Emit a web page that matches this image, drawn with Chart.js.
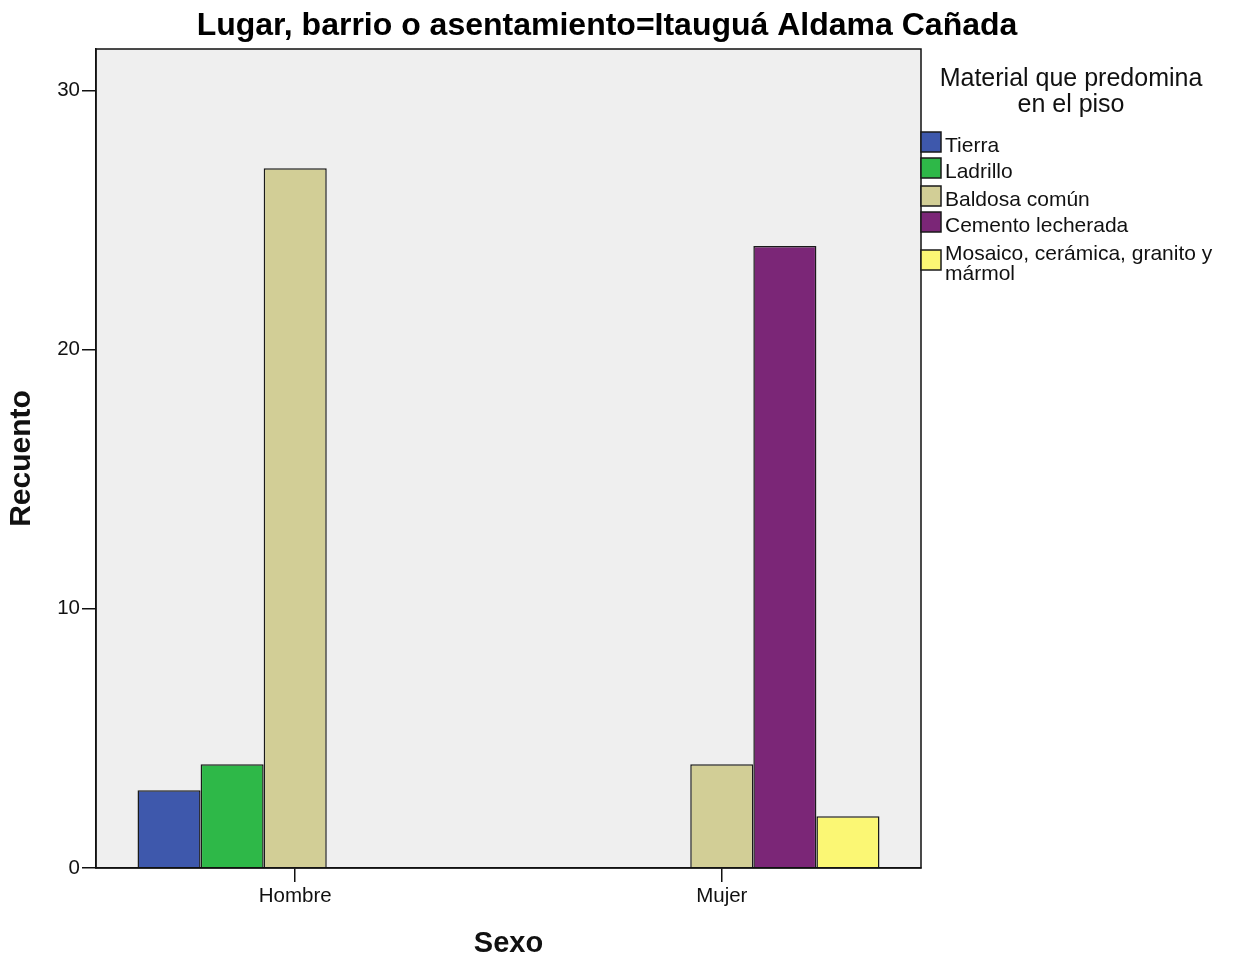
<!DOCTYPE html>
<html>
<head>
<meta charset="utf-8">
<script src="https://cdn.jsdelivr.net/npm/chart.js@4"></script>
<style>
  html, body { margin: 0; padding: 0; background: #fff; }
  #wrap { width: 1240px; height: 958px; }
</style>
</head>
<body>
<div id="wrap"><canvas id="myChart" width="1240" height="958"></canvas></div>
<script>
// datos
const chartTitle = "Lugar, barrio o asentamiento=Itauguá Aldama Cañada";
const xTitle = "Sexo";
const yTitle = "Recuento";
const legendTitle = ["Material que predomina", "en el piso"];
const categories = ["Hombre", "Mujer"];
const seriesNames = ["Tierra", "Ladrillo", "Baldosa común", "Cemento lecherada", "Mosaico, cerámica, granito y mármol"];
const legendLines = [["Tierra"], ["Ladrillo"], ["Baldosa común"], ["Cemento lecherada"], ["Mosaico, cerámica, granito y", "mármol"]];
const tierra = [3, null];
const ladrillo = [4, null];
const baldosa = [27, 4];
const cemento = [null, 24];
const mosaico = [null, 2];
const yTicks = [0, 10, 20, 30];
const colors = ["#3e58ac", "#2eb848", "#d2ce96", "#7b2677", "#fbf774"];

const FONT = "'Liberation Sans', Arial, sans-serif";
const allValues = [tierra, ladrillo, baldosa, cemento, mosaico];

const datasets = allValues.map((vals, i) => ({
  label: seriesNames[i],
  data: vals.map((v, j) => ({ x: j, y: v })),
  backgroundColor: colors[i],
  borderColor: "#1a1a1a",
  borderWidth: 1.5,
  categoryPercentage: 0.7394,
  barPercentage: 1.0
}));

// fondo gris y marco del área de trazado
const plotFrame = {
  id: "plotFrame",
  beforeDraw(chart) {
    const { ctx, chartArea: a } = chart;
    ctx.save();
    ctx.fillStyle = "#efefef";
    ctx.fillRect(a.left, a.top, a.right - a.left, a.bottom - a.top);
    ctx.restore();
  },
  afterDatasetsDraw(chart) {
    const { ctx, chartArea: a } = chart;
    ctx.save();
    ctx.strokeStyle = "#111";
    ctx.lineWidth = 1.5;
    ctx.strokeRect(a.left, a.top, a.right - a.left, a.bottom - a.top);
    ctx.restore();
  }
};

// título y leyenda dibujados a mano
const textPlugin = {
  id: "textPlugin",
  afterDraw(chart) {
    const ctx = chart.ctx;
    ctx.save();
    ctx.fillStyle = "#000";
    ctx.textBaseline = "alphabetic";
    ctx.textAlign = "center";
    ctx.font = "bold 32px " + FONT;
    ctx.fillText(chartTitle, 607, 35);

    ctx.font = "25px " + FONT;
    ctx.fillStyle = "#111";
    ctx.fillText(legendTitle[0], 1071, 86);
    ctx.fillText(legendTitle[1], 1071, 112);

    const rowBase = [152, 178, 206, 232, 270];
    ctx.textAlign = "left";
    ctx.font = "21px " + FONT;
    chart.data.datasets.forEach((ds, i) => {
      const lines = legendLines[i];
      const boxBottom = rowBase[i];
      ctx.fillStyle = ds.backgroundColor;
      ctx.fillRect(921, boxBottom - 20, 20, 20);
      ctx.strokeStyle = "#1a1a1a";
      ctx.lineWidth = 1.5;
      ctx.strokeRect(921, boxBottom - 20, 20, 20);
      ctx.fillStyle = "#111";
      if (lines.length === 1) {
        ctx.fillText(lines[0], 945, boxBottom);
      } else {
        ctx.fillText(lines[0], 945, 260);
        ctx.fillText(lines[1], 945, 280);
      }
    });
    ctx.restore();
  }
};

const ctx = document.getElementById("myChart").getContext("2d");
new Chart(ctx, {
  type: "bar",
  data: { datasets: datasets },
  options: {
    responsive: false,
    animation: false,
    events: [],
    layout: { padding: { top: 49, right: 319, left: 0, bottom: 0 } },
    plugins: {
      legend: { display: false },
      title: { display: false },
      tooltip: { enabled: false }
    },
    scales: {
      x: {
        type: "linear",
        min: -0.467,
        max: 1.467,
        offset: false,
        afterBuildTicks: (scale) => {
          scale.ticks = categories.map((c, i) => ({ value: i }));
        },
        afterFit: (scale) => { scale.height = 90; },
        ticks: {
          callback: (v) => categories[v],
          color: "#111",
          font: { family: FONT, size: 20.5 },
          padding: 2,
          maxRotation: 0
        },
        grid: { display: true, offset: false, drawOnChartArea: false, drawTicks: true, tickLength: 14, color: "#111", lineWidth: 1.5 },
        border: { display: true, color: "#111", width: 1.5 },
        title: {
          display: true,
          text: xTitle,
          color: "#111",
          font: { family: FONT, size: 29, weight: "bold", lineHeight: 1 },
          padding: { top: 0, bottom: 0 }
        }
      },
      y: {
        min: 0,
        max: 31.6,
        afterBuildTicks: (scale) => {
          scale.ticks = yTicks.map((v) => ({ value: v }));
        },
        afterFit: (scale) => { scale.width = 96; },
        ticks: {
          color: "#111",
          font: { family: FONT, size: 20.5 },
          padding: 2
        },
        grid: { display: true, drawOnChartArea: false, drawTicks: true, tickLength: 14, color: "#111", lineWidth: 1.5 },
        border: { display: true, color: "#111", width: 1.5 },
        title: {
          display: true,
          text: yTitle,
          color: "#111",
          font: { family: FONT, size: 30, weight: "bold", lineHeight: 1 },
          padding: { top: 7, bottom: 0 }
        }
      }
    }
  },
  plugins: [plotFrame, textPlugin]
});
</script>
</body>
</html>
